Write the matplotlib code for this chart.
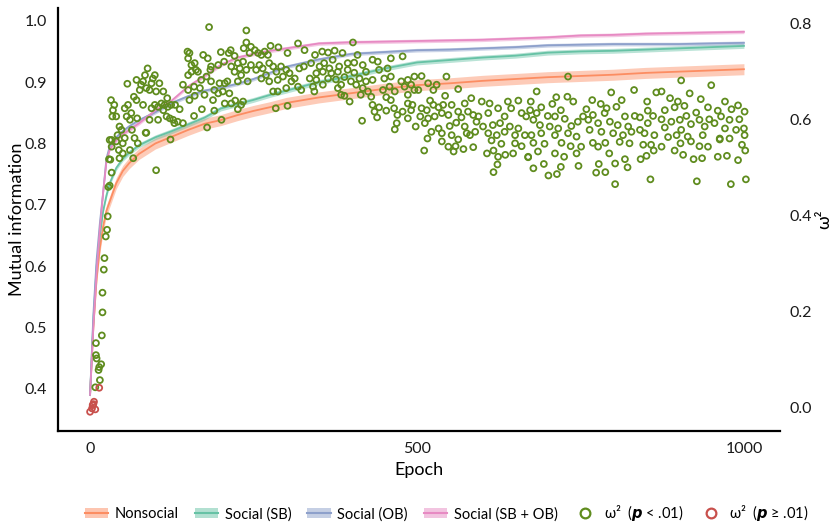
import matplotlib.pyplot as plt
from matplotlib.lines import Line2D
from matplotlib.patches import Patch

plt.rcParams['font.family'] = ['Lato', 'DejaVu Sans']

# mean mutual information per condition, read at selected epochs
epochs = [0, 5, 10, 15, 20, 25, 30, 40, 50, 60, 75, 100, 125, 150, 175, 200, 225, 250,
          275, 300, 350, 400, 450, 500, 550, 600, 650, 700, 750, 800, 850, 900, 950, 1000]
nonsocial = [0.39, 0.50, 0.58, 0.63, 0.665, 0.69, 0.705, 0.735, 0.755, 0.768, 0.783, 0.80,
             0.811, 0.822, 0.832, 0.838, 0.846, 0.853, 0.859, 0.866, 0.875, 0.882, 0.889,
             0.895, 0.898, 0.902, 0.905, 0.908, 0.91, 0.912, 0.915, 0.917, 0.919, 0.921]
social_sb = [0.39, 0.51, 0.60, 0.65, 0.69, 0.715, 0.735, 0.76, 0.775, 0.785, 0.797, 0.81,
             0.82, 0.831, 0.842, 0.857, 0.864, 0.871, 0.879, 0.886, 0.90, 0.91, 0.922,
             0.932, 0.936, 0.94, 0.943, 0.948, 0.95, 0.951, 0.953, 0.955, 0.957, 0.959]
social_ob = [0.39, 0.52, 0.61, 0.67, 0.72, 0.775, 0.795, 0.81, 0.82, 0.828, 0.838, 0.851,
             0.866, 0.877, 0.886, 0.891, 0.897, 0.905, 0.915, 0.925, 0.937, 0.946, 0.949,
             0.952, 0.953, 0.955, 0.957, 0.96, 0.961, 0.962, 0.962, 0.962, 0.963, 0.964]
social_both = [0.39, 0.50, 0.59, 0.66, 0.72, 0.77, 0.79, 0.805, 0.815, 0.822, 0.833, 0.854,
               0.87, 0.893, 0.91, 0.928, 0.94, 0.946, 0.951, 0.955, 0.963, 0.965, 0.966,
               0.967, 0.968, 0.969, 0.971, 0.973, 0.976, 0.977, 0.979, 0.98, 0.981, 0.982]
band = [0.009, 0.004, 0.003, 0.003]
names = ['Nonsocial', 'Social (SB)', 'Social (OB)', 'Social (SB + OB)']
colors = ['#fc8d62', '#66c2a5', '#8da0cb', '#e78ac3']

# omega squared (epoch, value), p < .01
sig_points = [
    (8, 0.043), (15, 0.058), (13, 0.079), (14, 0.085), (17, 0.091), (10, 0.103), (9, 0.11),
    (9, 0.135), (18, 0.151), (19, 0.199), (19, 0.24), (21, 0.288), (22, 0.312), (24, 0.357),
    (26, 0.371), (27, 0.399), (28, 0.46), (30, 0.463), (33, 0.49), (31, 0.517), (30, 0.558),
    (33, 0.544),
    (29, 0.518), (33, 0.558), (42, 0.568), (45, 0.586), (48, 0.579), (40, 0.555), (50, 0.551),
    (53, 0.562), (44, 0.537), (50, 0.53), (45, 0.52), (61, 0.537), (66, 0.52), (68, 0.562),
    (73, 0.551), (64, 0.579), (86, 0.573),
    (32, 0.641), (37, 0.631), (35, 0.62), (34, 0.607), (40, 0.607), (53, 0.624), (56, 0.607),
    (58, 0.631), (61, 0.6), (63, 0.614), (72, 0.603), (67, 0.648), (71, 0.641), (57, 0.675),
    (71, 0.683), (76, 0.662), (78, 0.673), (81, 0.68), (84, 0.693), (88, 0.707), (86, 0.666),
    (91, 0.662), (94, 0.676), (96, 0.686), (99, 0.693), (101, 0.659), (106, 0.676),
    (112, 0.659), (81, 0.631), (94, 0.624), (99, 0.631), (104, 0.627), (109, 0.634),
    (114, 0.631), (119, 0.627), (112, 0.62), (124, 0.631), (130, 0.631), (137, 0.622),
    (117, 0.607), (122, 0.603), (127, 0.6), (129, 0.593), (134, 0.596), (142, 0.593),
    (104, 0.6), (91, 0.6), (85, 0.573), (101, 0.495), (123, 0.559), (118, 0.645),
    (149, 0.742), (152, 0.739), (150, 0.728), (155, 0.714), (160, 0.718), (162, 0.704),
    (150, 0.693), (155, 0.7), (142, 0.673), (150, 0.662), (159, 0.669), (160, 0.65),
    (159, 0.608), (152, 0.641),
    (182, 0.793), (239, 0.786), (173, 0.735), (180, 0.728), (185, 0.711), (184, 0.704),
    (196, 0.714), (200, 0.741), (205, 0.721), (212, 0.739), (215, 0.745), (221, 0.733),
    (216, 0.711), (226, 0.718), (229, 0.707), (234, 0.721), (235, 0.749), (239, 0.761),
    (244, 0.739), (246, 0.752), (252, 0.745), (257, 0.739), (262, 0.735), (267, 0.742),
    (272, 0.735), (276, 0.754), (288, 0.751), (302, 0.739), (318, 0.759), (328, 0.745),
    (165, 0.7), (170, 0.683), (178, 0.69), (185, 0.68), (190, 0.662), (198, 0.676),
    (206, 0.676), (210, 0.68), (196, 0.655), (203, 0.659), (213, 0.655), (188, 0.641),
    (175, 0.652), (168, 0.666), (221, 0.7), (231, 0.693), (239, 0.704), (246, 0.714),
    (254, 0.704), (259, 0.714), (264, 0.707), (274, 0.718), (280, 0.711), (285, 0.7),
    (292, 0.711), (300, 0.704), (305, 0.697), (313, 0.686), (320, 0.707), (327, 0.711),
    (262, 0.686), (269, 0.693), (274, 0.68), (287, 0.683), (295, 0.69), (308, 0.68),
    (318, 0.669), (287, 0.659), (280, 0.659), (300, 0.666), (323, 0.662), (241, 0.68),
    (226, 0.68), (206, 0.634), (216, 0.634), (222, 0.64), (234, 0.638), (231, 0.631),
    (190, 0.619), (171, 0.622), (201, 0.6), (179, 0.584), (226, 0.622), (284, 0.624),
    (302, 0.629),
    (402, 0.761), (355, 0.742), (364, 0.74), (374, 0.744), (386, 0.739), (409, 0.735),
    (344, 0.735), (371, 0.725), (358, 0.718), (338, 0.718), (351, 0.711), (366, 0.707),
    (381, 0.711), (394, 0.718), (404, 0.719), (417, 0.714), (432, 0.725), (440, 0.721),
    (460, 0.728), (478, 0.732), (346, 0.697), (356, 0.7), (369, 0.697), (379, 0.7),
    (394, 0.704), (404, 0.698), (422, 0.7), (442, 0.704), (455, 0.707), (336, 0.686),
    (346, 0.683), (364, 0.686), (376, 0.684), (389, 0.689), (399, 0.68), (412, 0.686),
    (422, 0.68), (432, 0.683), (450, 0.686), (460, 0.69), (476, 0.68), (486, 0.683),
    (496, 0.69), (341, 0.669), (356, 0.673), (379, 0.666), (384, 0.673), (407, 0.673),
    (417, 0.666), (425, 0.659), (448, 0.662), (458, 0.669), (466, 0.659), (481, 0.669),
    (491, 0.673), (343, 0.659), (384, 0.652), (389, 0.65), (414, 0.652), (430, 0.648),
    (453, 0.647), (460, 0.641), (486, 0.652), (496, 0.662), (397, 0.638), (432, 0.631),
    (442, 0.626), (465, 0.624), (486, 0.634), (493, 0.631), (435, 0.617), (453, 0.619),
    (470, 0.61), (478, 0.617), (486, 0.603), (491, 0.62), (439, 0.605), (416, 0.598),
    (469, 0.593), (466, 0.58), (498, 0.586),
    (507, 0.691), (545, 0.69), (517, 0.676), (530, 0.673), (525, 0.662), (563, 0.664),
    (502, 0.662), (573, 0.634), (543, 0.65), (520, 0.64), (507, 0.624), (515, 0.62),
    (525, 0.631), (533, 0.626), (540, 0.631), (553, 0.631), (583, 0.645), (599, 0.638),
    (611, 0.634), (639, 0.638), (655, 0.64), (505, 0.607), (517, 0.603), (527, 0.607),
    (538, 0.614), (548, 0.61), (563, 0.617), (568, 0.605), (578, 0.617), (586, 0.61),
    (594, 0.607), (609, 0.614), (624, 0.624), (634, 0.607), (644, 0.624), (660, 0.614),
    (667, 0.607), (512, 0.593), (533, 0.582), (550, 0.587), (560, 0.594), (573, 0.586),
    (591, 0.596), (601, 0.586), (616, 0.589), (627, 0.593), (642, 0.586), (655, 0.582),
    (522, 0.575), (538, 0.572), (553, 0.568), (576, 0.572), (589, 0.575), (609, 0.572),
    (622, 0.568), (634, 0.575), (650, 0.568), (665, 0.568), (516, 0.561), (538, 0.555),
    (563, 0.559), (581, 0.568), (614, 0.557), (629, 0.55), (650, 0.551), (660, 0.545),
    (548, 0.544), (559, 0.545), (571, 0.539), (586, 0.543), (511, 0.536), (617, 0.536),
    (635, 0.527), (624, 0.523), (647, 0.53), (607, 0.53), (556, 0.534), (623, 0.507),
    (617, 0.491), (670, 0.523),
    (731, 0.69), (683, 0.659), (832, 0.662), (797, 0.657), (674, 0.638), (713, 0.647),
    (730, 0.648), (739, 0.638), (768, 0.641), (781, 0.633), (813, 0.641), (690, 0.626),
    (707, 0.633), (720, 0.62), (759, 0.622), (790, 0.624), (805, 0.627), (673, 0.62),
    (683, 0.614), (700, 0.608), (711, 0.607), (726, 0.602), (754, 0.607), (769, 0.61),
    (787, 0.614), (818, 0.607), (833, 0.608), (678, 0.6), (688, 0.589), (703, 0.586),
    (716, 0.582), (736, 0.587), (746, 0.596), (762, 0.6), (777, 0.593), (795, 0.596),
    (807, 0.589), (823, 0.586), (690, 0.572), (711, 0.568), (731, 0.572), (744, 0.565),
    (764, 0.579), (782, 0.575), (800, 0.572), (815, 0.568), (828, 0.575), (675, 0.568),
    (678, 0.552), (695, 0.55), (721, 0.552), (735, 0.545), (751, 0.544), (769, 0.552),
    (788, 0.552), (810, 0.554), (825, 0.551), (685, 0.534), (711, 0.53), (725, 0.523),
    (744, 0.53), (777, 0.544), (794, 0.53), (818, 0.518), (670, 0.522), (678, 0.499),
    (694, 0.508), (720, 0.502), (747, 0.504), (778, 0.508), (803, 0.509), (822, 0.501),
    (701, 0.484), (714, 0.487), (774, 0.49), (788, 0.491), (803, 0.466),
    (904, 0.682), (950, 0.672), (866, 0.657), (874, 0.659), (917, 0.655), (852, 0.638),
    (887, 0.645), (899, 0.638), (934, 0.643), (971, 0.638), (991, 0.63), (853, 0.619),
    (879, 0.62), (894, 0.626), (909, 0.629), (927, 0.615), (945, 0.626), (960, 0.619),
    (981, 0.622), (1001, 0.617), (841, 0.605), (861, 0.608), (874, 0.601), (889, 0.596),
    (902, 0.6), (912, 0.608), (932, 0.6), (947, 0.601), (965, 0.607), (978, 0.6),
    (993, 0.601), (853, 0.593), (879, 0.584), (904, 0.579), (919, 0.591), (940, 0.586),
    (955, 0.593), (971, 0.582), (988, 0.579), (1000, 0.582), (841, 0.579), (848, 0.572),
    (863, 0.568), (884, 0.564), (897, 0.568), (914, 0.565), (937, 0.568), (963, 0.561),
    (978, 0.561), (1001, 0.568), (846, 0.548), (858, 0.548), (874, 0.544), (903, 0.551),
    (919, 0.555), (932, 0.545), (945, 0.544), (963, 0.559), (997, 0.548), (842, 0.518),
    (851, 0.525), (862, 0.536), (894, 0.536), (907, 0.527), (923, 0.518), (936, 0.52),
    (960, 0.523), (974, 0.525), (991, 0.516), (1002, 0.536), (857, 0.476), (928, 0.472),
    (980, 0.466), (1003, 0.476),
]

# omega squared (epoch, value), p >= .01
ns_points = [(0, -0.008), (3, -0.001), (4, 0.006), (6, 0.013), (8, -0.003), (5, 0.008), (14, 0.042)]

green = '#5f8c1e'
red = '#c8504c'

fig = plt.figure(figsize=(8.35, 5.26), dpi=100)
ax = fig.add_axes([0.0695, 0.1806, 0.8645, 0.8044])

series = [nonsocial, social_sb, social_ob, social_both]
handles = []
for vals, hw, c, name in zip(series, band, colors, names):
    lo = [v - hw for v in vals]
    hi = [v + hw for v in vals]
    ax.fill_between(epochs, lo, hi, color=c, alpha=0.45, lw=0)
    ax.plot(epochs, vals, color=c, lw=1.3)
    handles.append((Patch(facecolor=c, alpha=0.5, edgecolor='none'),
                    Line2D([], [], color=c, lw=1.5)))

ax.set_xlim(-49, 1055)
ax.set_ylim(0.331, 1.021)
ax.set_xticks([0, 500, 1000])
ax.set_yticks([0.4, 0.5, 0.6, 0.7, 0.8, 0.9, 1.0])
ax.set_yticklabels(['0.4', '0.5', '0.6', '0.7', '0.8', '0.9', '1.0'])
ax.tick_params(length=0, labelsize=11.5, pad=8, colors='#1a1a1a')
ax.set_xlabel('Epoch', fontsize=13, labelpad=4)
ax.set_ylabel('Mutual information', fontsize=13)
ax.yaxis.set_label_coords(-0.046, 0.5)
for s in ['top', 'right']:
    ax.spines[s].set_visible(False)
for s in ['left', 'bottom']:
    ax.spines[s].set_linewidth(1.6)

ax2 = ax.twinx()
ax2.scatter([p[0] for p in sig_points], [p[1] for p in sig_points], s=18,
            facecolors='none', edgecolors=green, linewidths=1.3, zorder=3)
ax2.scatter([p[0] for p in ns_points], [p[1] for p in ns_points], s=18,
            facecolors='none', edgecolors=red, linewidths=1.3, zorder=3)
ax2.set_ylim(-0.048, 0.833)
ax2.set_yticks([0.0, 0.2, 0.4, 0.6, 0.8])
ax2.set_yticklabels(['0.0', '0.2', '0.4', '0.6', '0.8'])
ax2.tick_params(length=0, labelsize=11.5, pad=7, colors='#1a1a1a')
ax2.set_ylabel('ω²', fontsize=13)
ax2.yaxis.set_label_coords(1.05, 0.5)
for s in ax2.spines.values():
    s.set_visible(False)

handles.append(Line2D([], [], ls='none', marker='o', mfc='none', mec=green, mew=1.6, ms=7))
handles.append(Line2D([], [], ls='none', marker='o', mfc='none', mec=red, mew=1.6, ms=7))
labels = names + [r'ω²  ($\mathbfit{p}$ < .01)', r'ω²  ($\mathbfit{p}$ ≥ .01)']
fig.legend(handles, labels, loc='lower center', bbox_to_anchor=(0.535, -0.02), ncol=6,
           frameon=False, fontsize=10.5, handlelength=1.6, columnspacing=1.1,
           handletextpad=0.45)

fig.savefig('out.png', dpi=100)
